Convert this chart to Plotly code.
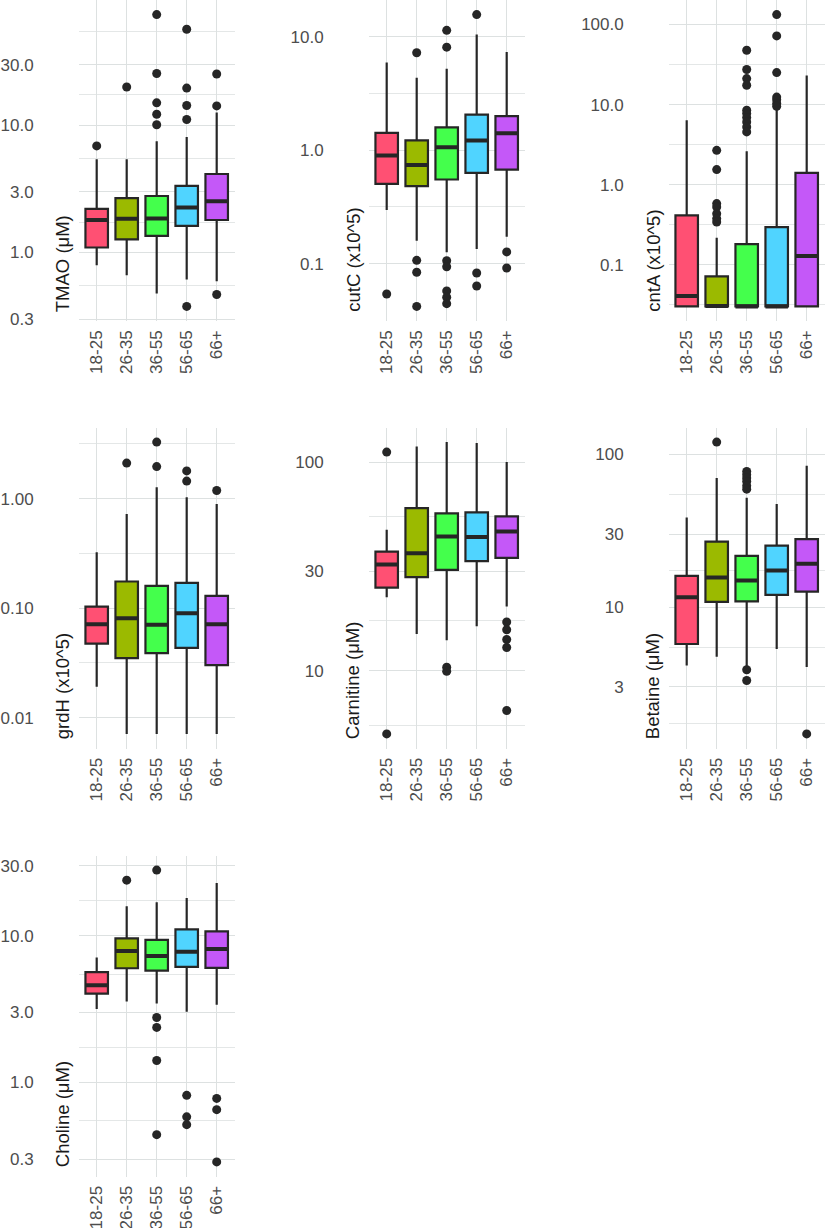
import plotly.graph_objects as go
import math

CATEGORIES = ["18-25", "26-35", "36-55", "56-65", "66+"]
COLORS = ["#FF5073", "#9BBA00", "#44FF4C", "#50D4FF", "#C458F8"]

# ---- TMAO (uM)
tmao_lower = [0.794, 0.663, 0.476, 0.614, 0.595]
tmao_q1 = [1.095, 1.27, 1.35, 1.62, 1.80]
tmao_median = [1.80, 1.84, 1.85, 2.26, 2.53]
tmao_q3 = [2.20, 2.68, 2.78, 3.34, 4.14]
tmao_upper = [5.41, 5.41, 7.49, 8.09, 12.6]
tmao_outliers = [[6.88], [20.0], [74.1, 25.5, 15.0, 12.2, 10.1],
                 [56.8, 19.6, 14.3, 11.1, 0.377], [25.3, 14.2, 0.468]]

# ---- cutC (x10^5)
cutc_lower = [0.297, 0.159, 0.126, 0.135, 0.173]
cutc_q1 = [0.505, 0.482, 0.552, 0.631, 0.676]
cutc_median = [0.898, 0.743, 1.06, 1.22, 1.41]
cutc_q3 = [1.42, 1.22, 1.59, 2.06, 2.00]
cutc_upper = [5.94, 4.36, 5.23, 10.5, 7.33]
cutc_outliers = [[0.054], [7.24, 0.107, 0.084, 0.042],
                 [11.4, 8.11, 0.106, 0.094, 0.0575, 0.0506, 0.0444],
                 [15.7, 0.0828, 0.0636], [0.127, 0.0916]]

# ---- cntA (x10^5)
cnta_lower = [0.0301, 0.0301, 0.0301, 0.0301, 0.0301]
cnta_q1 = [0.0301, 0.0301, 0.0301, 0.0301, 0.0301]
cnta_median = [0.0405, 0.0305, 0.0301, 0.0301, 0.128]
cnta_q3 = [0.413, 0.0714, 0.181, 0.295, 1.40]
cnta_upper = [6.37, 0.2175, 2.61, 8.91, 23.0]
cnta_outliers = [[], [2.68, 1.54, 0.579, 0.525, 0.434, 0.376, 0.341],
                 [47.7, 27.4, 21.1, 17.4, 8.49, 7.72, 6.88, 6.06, 5.25, 4.55],
                 [133.0, 72.0, 25.1, 12.4, 11.5, 10.3, 9.52], []]

# ---- grdH (x10^5)
grdh_lower = [0.0192, 0.00711, 0.00711, 0.00711, 0.00711]
grdh_q1 = [0.0475, 0.035, 0.0388, 0.0434, 0.0302]
grdh_median = [0.0714, 0.081, 0.0704, 0.090, 0.0714]
grdh_q3 = [0.1034, 0.175, 0.160, 0.170, 0.1295]
grdh_upper = [0.324, 0.722, 1.27, 1.03, 0.891]
grdh_outliers = [[], [2.11], [3.28, 1.96], [1.79, 1.445], [1.186]]

# ---- Carnitine (uM)
carn_lower = [22.5, 15.0, 13.97, 16.3, 20.3]
carn_q1 = [25.0, 28.1, 30.4, 33.5, 34.7]
carn_median = [32.3, 36.5, 44.0, 43.7, 46.4]
carn_q3 = [37.2, 60.2, 56.7, 57.4, 54.9]
carn_upper = [47.4, 118.8, 124.7, 123.3, 100.0]
carn_outliers = [[111.7, 4.97], [], [10.37, 9.92], [],
                 [17.1, 15.7, 14.1, 12.9, 6.44]]

# ---- Betaine (uM)
bet_lower = [4.14, 4.73, 4.09, 5.31, 4.05]
bet_q1 = [5.73, 10.8, 10.9, 12.0, 12.6]
bet_median = [11.6, 15.6, 14.9, 17.3, 19.2]
bet_q3 = [16.0, 26.8, 21.6, 25.2, 27.8]
bet_upper = [38.5, 69.7, 51.8, 47.1, 83.9]
bet_outliers = [[], [119.8], [76.9, 73.2, 69.7, 66.2, 62.0, 59.0, 3.89, 3.31],
                [], [1.48]]

# ---- Choline (uM)
chol_lower = [3.17, 3.56, 3.45, 3.03, 3.38]
chol_q1 = [4.03, 6.00, 5.78, 6.12, 6.03]
chol_median = [4.60, 7.87, 7.28, 7.78, 8.12]
chol_q3 = [5.64, 9.60, 9.35, 11.05, 10.7]
chol_upper = [7.09, 15.85, 16.9, 18.1, 22.9]
chol_outliers = [[], [23.9], [28.0, 2.77, 2.37, 1.41, 0.44],
                 [0.816, 0.582, 0.515], [0.778, 0.652, 0.287]]

PANELS = [
    dict(title="TMAO (μM)", lower=tmao_lower, q1=tmao_q1, med=tmao_median, q3=tmao_q3,
         upper=tmao_upper, out=tmao_outliers,
         ticks=[0.3, 1, 3, 10, 30], labels=["0.3", "1.0", "3.0", "10.0", "30.0"],
         minor_ext=[100]),
    dict(title="cutC (x10^5)", lower=cutc_lower, q1=cutc_q1, med=cutc_median, q3=cutc_q3,
         upper=cutc_upper, out=cutc_outliers,
         ticks=[0.1, 1, 10], labels=["0.1", "1.0", "10.0"], minor_ext=[0.01, 100]),
    dict(title="cntA (x10^5)", lower=cnta_lower, q1=cnta_q1, med=cnta_median, q3=cnta_q3,
         upper=cnta_upper, out=cnta_outliers,
         ticks=[0.1, 1, 10, 100], labels=["0.1", "1.0", "10.0", "100.0"], minor_ext=[0.01, 1000]),
    dict(title="grdH (x10^5)", lower=grdh_lower, q1=grdh_q1, med=grdh_median, q3=grdh_q3,
         upper=grdh_upper, out=grdh_outliers,
         ticks=[0.01, 0.1, 1], labels=["0.01", "0.10", "1.00"], minor_ext=[0.001, 10]),
    dict(title="Carnitine (μM)", lower=carn_lower, q1=carn_q1, med=carn_median, q3=carn_q3,
         upper=carn_upper, out=carn_outliers,
         ticks=[10, 30, 100], labels=["10", "30", "100"], minor_ext=[3, 300]),
    dict(title="Betaine (μM)", lower=bet_lower, q1=bet_q1, med=bet_median, q3=bet_q3,
         upper=bet_upper, out=bet_outliers,
         ticks=[3, 10, 30, 100], labels=["3", "10", "30", "100"], minor_ext=[1, 300]),
    dict(title="Choline (μM)", lower=chol_lower, q1=chol_q1, med=chol_median, q3=chol_q3,
         upper=chol_upper, out=chol_outliers,
         ticks=[0.3, 1, 3, 10, 30], labels=["0.3", "1.0", "3.0", "10.0", "30.0"], minor_ext=[0.1, 100]),
]

W, H = 825, 1228
COL_X0 = [78.7, 368.7, 668.7]
PANEL_W = 156
ROW_Y0 = [0, 427.5, 855.5]
PANEL_H = 321

GRID = "#DDE1E1"
INK = "#262626"
BOX_W = 0.75

fig = go.Figure()
layout = dict(width=W, height=H, margin=dict(l=0, r=0, t=0, b=0),
              paper_bgcolor="white", plot_bgcolor="white", showlegend=False,
              font=dict(family="Liberation Sans, Arial, sans-serif"))
annotations = []

for k, p in enumerate(PANELS):
    r, c = divmod(k, 3)
    ax = "" if k == 0 else str(k + 1)
    xref, yref = "x" + ax, "y" + ax
    x0 = COL_X0[c]
    y0 = ROW_Y0[r]
    xdom = [x0 / W, min(1.0, (x0 + PANEL_W) / W)]
    ydom = [1 - (y0 + PANEL_H) / H, 1 - y0 / H]

    allv = p["lower"] + p["upper"] + [v for o in p["out"] for v in o]
    lo, hi = math.log10(min(allv)), math.log10(max(allv))
    pad = 0.05 * (hi - lo)
    yr = [lo - pad, hi + pad]

    majors = sorted(p["ticks"] + p["minor_ext"])
    minors = [math.sqrt(a * b) for a, b in zip(majors[:-1], majors[1:])]

    for i, cat in enumerate(CATEGORIES):
        fig.add_trace(go.Box(
            x=[i], q1=[p["q1"][i]], median=[p["med"][i]], q3=[p["q3"][i]],
            lowerfence=[p["lower"][i]], upperfence=[p["upper"][i]],
            width=BOX_W, fillcolor=COLORS[i], line=dict(color=INK, width=2.2),
            whiskerwidth=0, boxpoints=False, hoverinfo="skip",
            xaxis=xref, yaxis=yref, name=cat))
    # thicker median bars
    mx, my = [], []
    for i in range(len(CATEGORIES)):
        mx += [i - BOX_W / 2, i + BOX_W / 2, None]
        my += [p["med"][i], p["med"][i], None]
    fig.add_trace(go.Scatter(x=mx, y=my, mode="lines", line=dict(color=INK, width=4),
                             hoverinfo="skip", xaxis=xref, yaxis=yref))
    ox, oy = [], []
    for i, o in enumerate(p["out"]):
        ox += [i] * len(o)
        oy += o
    fig.add_trace(go.Scatter(x=ox, y=oy, mode="markers",
                             marker=dict(color=INK, size=9, line=dict(width=0)),
                             hoverinfo="skip", xaxis=xref, yaxis=yref))

    layout["xaxis" + ax] = dict(
        domain=xdom, anchor=yref, range=[-0.6, len(CATEGORIES) - 0.4],
        tickmode="array", tickvals=list(range(len(CATEGORIES))), ticktext=CATEGORIES,
        tickangle=-90, showgrid=True, gridcolor=GRID, gridwidth=1, zeroline=False,
        showline=False, ticks="", tickfont=dict(size=17, color="#4D4D4D"),
        ticklabelstandoff=5, automargin=False, fixedrange=True)
    layout["yaxis" + ax] = dict(
        domain=ydom, anchor=xref, type="log", range=yr,
        tickmode="array", tickvals=p["ticks"], ticktext=p["labels"],
        showgrid=True, gridcolor=GRID, gridwidth=1, zeroline=False, showline=False,
        ticks="", tickfont=dict(size=17, color="#4D4D4D"), ticklabelstandoff=44,
        minor=dict(tickmode="array", tickvals=minors, showgrid=True, gridcolor=GRID,
                   gridwidth=0.8, ticks=""),
        automargin=False, fixedrange=True)
    annotations.append(dict(
        text=p["title"], textangle=-90, showarrow=False,
        xref="paper", yref="paper",
        x=(x0 - 16) / W, xanchor="center",
        y=1 - (y0 + PANEL_H - 7) / H, yanchor="bottom",
        font=dict(size=18.5, color="#1A1A1A")))

layout["annotations"] = annotations
fig.update_layout(**layout)
fig.write_html(
    "out.html",
    config={"displayModeBar": False, "staticPlot": True},
    post_script="document.body.style.margin='0px';document.body.style.overflow='hidden';",
)
